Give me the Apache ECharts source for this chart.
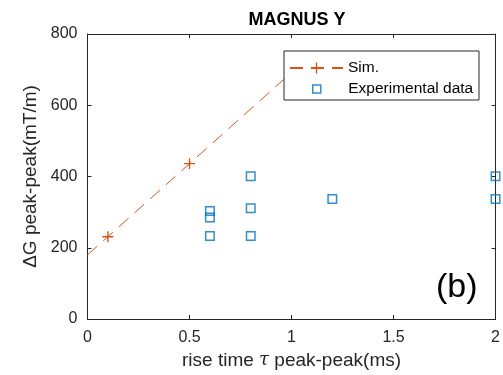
<!DOCTYPE html>
<html>
<head>
<meta charset="utf-8">
<script src="https://cdn.jsdelivr.net/npm/echarts@6/dist/echarts.min.js"></script>
<style>
  html, body { margin: 0; padding: 0; background: #fff; }
  #chart { width: 503px; height: 375px; }
</style>
</head>
<body>
<div id="chart"></div>
<script>
// simulation curve (dashed line, '+' on the simulated points; the last one sits behind the legend)
const simX = [0, 0.1, 0.5, 1]
const simY = [180, 231, 436, 692]
const simMarked = [false, true, true, true]

// measured points
const expX = [0.6, 0.6, 0.6, 0.8, 0.8, 0.8, 1.2, 2, 2]
const expY = [233, 285, 303, 233, 311, 401, 337, 337, 401]

const xTicks = [0, 0.5, 1, 1.5, 2]
const yTicks = [0, 200, 400, 600, 800]

const axisColor = '#262626'
const simColor = '#D95319'
const expColor = '#0072BD'
const font = 'Liberation Sans, Arial, sans-serif'

const plus = 'path://M10.5,0 H13.5 V10.5 H24 V13.5 H13.5 V24 H10.5 V13.5 H0 V10.5 H10.5 Z'
const square = 'path://M0,0 H10 V10 H0 Z'

const chart = echarts.init(document.getElementById('chart'))

const baseX = {
  type: 'value',
  min: xTicks[0],
  max: xTicks[xTicks.length - 1],
  interval: 0.5,
  splitLine: { show: false },
  axisLine: { show: true, onZero: false, lineStyle: { color: axisColor, width: 1 } },
  axisTick: { show: true, inside: true, length: 4, lineStyle: { color: axisColor } }
}
const baseY = {
  type: 'value',
  min: yTicks[0],
  max: yTicks[yTicks.length - 1],
  interval: 200,
  splitLine: { show: false },
  axisLine: { show: true, onZero: false, lineStyle: { color: axisColor, width: 1 } },
  axisTick: { show: true, inside: true, length: 4, lineStyle: { color: axisColor } }
}

const legendBase = {
  orient: 'vertical',
  itemWidth: 53,
  padding: 0,
  z: 60,
  textStyle: { fontFamily: font, fontSize: 15.5, color: '#000' }
}

const option = {
  animation: false,
  backgroundColor: '#fff',
  title: {
    text: 'MAGNUS Y',
    left: 292,
    top: 6,
    textAlign: 'center',
    textStyle: { fontFamily: font, fontSize: 18, fontWeight: 'bold', color: '#000' }
  },
  grid: { left: 87.5, right: 5.5, top: 34, bottom: 56 },
  xAxis: [
    Object.assign({}, baseX, {
      position: 'bottom',
      name: 'rise time {i|τ} peak-peak(ms)',
      nameLocation: 'middle',
      nameGap: 30,
      nameTextStyle: {
        fontFamily: font, fontSize: 19, color: axisColor,
        rich: { i: { fontFamily: 'DejaVu Serif', fontStyle: 'italic', fontSize: 18, color: axisColor } }
      },
      axisLabel: {
        fontFamily: font, fontSize: 16, color: axisColor, margin: 11,
        formatter: v => String(v)
      }
    }),
    Object.assign({}, baseX, { position: 'top', axisLabel: { show: false } })
  ],
  yAxis: [
    Object.assign({}, baseY, {
      position: 'left',
      name: 'ΔG peak-peak(mT/m)',
      nameLocation: 'middle',
      nameGap: 38,
      nameTextStyle: { fontFamily: font, fontSize: 19, color: axisColor },
      axisLabel: { fontFamily: font, fontSize: 16, color: axisColor, margin: 10 }
    }),
    Object.assign({}, baseY, { position: 'right', axisLabel: { show: false } })
  ],
  legend: [
    Object.assign({}, legendBase, {
      left: 289,
      top: 60,
      itemHeight: 14,
      data: [{ name: 'Sim.' }]
    }),
    Object.assign({}, legendBase, {
      left: 312,
      top: 81,
      itemHeight: 8,
      data: [{
        name: 'Experimental data',
        icon: square,
        itemStyle: { color: 'rgba(0,0,0,0)', borderColor: expColor, borderWidth: 1.5 }
      }]
    })
  ],
  graphic: [
    {
      type: 'rect',
      z: 50,
      shape: { x: 284, y: 51, width: 195, height: 49 },
      style: { fill: '#fff', stroke: axisColor, lineWidth: 1 }
    },
    {
      type: 'text',
      left: 436,
      top: 271,
      style: { text: '(b)', font: '34px Liberation Sans, Arial, sans-serif', fill: '#000' }
    }
  ],
  series: [
    {
      name: 'Sim.',
      type: 'line',
      symbol: plus,
      data: simX.map((x, i) => (simMarked[i] ? [x, simY[i]] : { value: [x, simY[i]], symbol: 'none' })),
      symbolSize: 11,
      lineStyle: { color: simColor, width: 1, type: [13, 8] },
      itemStyle: { color: simColor },
      clip: true,
      z: 3
    },
    {
      name: 'Experimental data',
      type: 'scatter',
      data: expX.map((x, i) => [x, expY[i]]),
      symbol: 'rect',
      symbolSize: 8.5,
      itemStyle: { color: 'rgba(0,0,0,0)', borderColor: expColor, borderWidth: 1.5 },
      clip: false,
      z: 4
    }
  ]
}

chart.setOption(option)
</script>
</body>
</html>
